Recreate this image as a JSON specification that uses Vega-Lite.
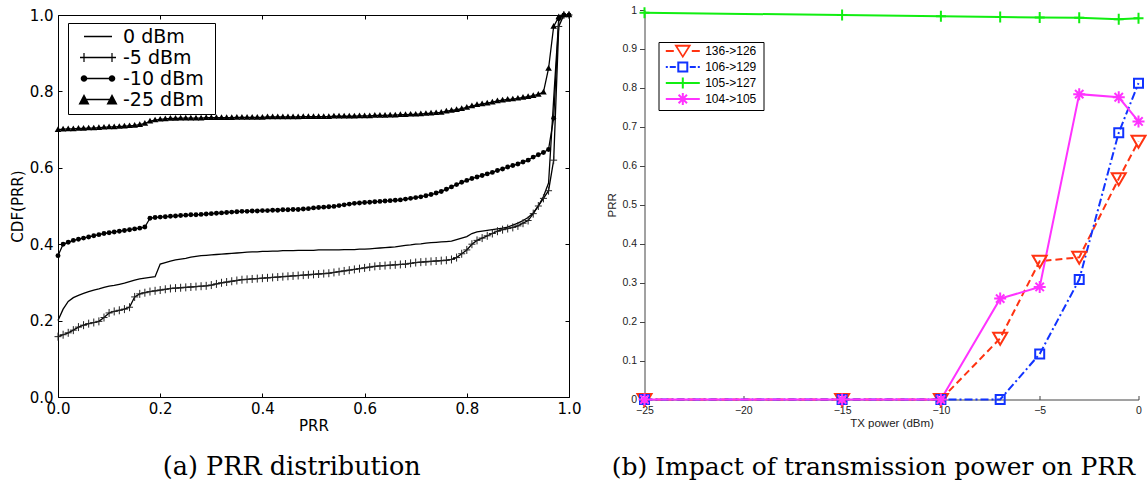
{
 "$schema": "https://vega.github.io/schema/vega-lite/v6.json",
 "background": "white",
 "padding": {"left": 10, "top": 3, "right": 0, "bottom": 0},
 "spacing": 24.5,
 "resolve": {"scale": {"shape": "independent", "color": "independent"}, "legend": {"shape": "independent", "color": "independent"}},
 "config": {
  "view": {"stroke": null},
  "axis": {"grid": false, "labelFlush": false, "titleFontWeight": "normal", "minExtent": 0, "labelOverlap": false}
 },
 "datasets": {
  "cdf": [
   {"x":0.00,"0 dBm":0.200,"-5 dBm":0.158,"-10 dBm":0.370,"-25 dBm":0.700},
   {"x":0.01,"0 dBm":0.230,"-5 dBm":0.163,"-10 dBm":0.400,"-25 dBm":0.701},
   {"x":0.02,"0 dBm":0.250,"-5 dBm":0.168,"-10 dBm":0.405,"-25 dBm":0.702},
   {"x":0.03,"0 dBm":0.260,"-5 dBm":0.175,"-10 dBm":0.410,"-25 dBm":0.702},
   {"x":0.04,"0 dBm":0.266,"-5 dBm":0.183,"-10 dBm":0.413,"-25 dBm":0.703},
   {"x":0.05,"0 dBm":0.271,"-5 dBm":0.188,"-10 dBm":0.416,"-25 dBm":0.703},
   {"x":0.06,"0 dBm":0.276,"-5 dBm":0.192,"-10 dBm":0.419,"-25 dBm":0.704},
   {"x":0.07,"0 dBm":0.280,"-5 dBm":0.195,"-10 dBm":0.422,"-25 dBm":0.704},
   {"x":0.08,"0 dBm":0.283,"-5 dBm":0.198,"-10 dBm":0.425,"-25 dBm":0.705},
   {"x":0.09,"0 dBm":0.287,"-5 dBm":0.208,"-10 dBm":0.428,"-25 dBm":0.706},
   {"x":0.10,"0 dBm":0.290,"-5 dBm":0.220,"-10 dBm":0.430,"-25 dBm":0.707},
   {"x":0.11,"0 dBm":0.292,"-5 dBm":0.224,"-10 dBm":0.432,"-25 dBm":0.707},
   {"x":0.12,"0 dBm":0.295,"-5 dBm":0.227,"-10 dBm":0.434,"-25 dBm":0.708},
   {"x":0.13,"0 dBm":0.298,"-5 dBm":0.230,"-10 dBm":0.436,"-25 dBm":0.709},
   {"x":0.14,"0 dBm":0.302,"-5 dBm":0.235,"-10 dBm":0.438,"-25 dBm":0.710},
   {"x":0.15,"0 dBm":0.306,"-5 dBm":0.262,"-10 dBm":0.440,"-25 dBm":0.711},
   {"x":0.16,"0 dBm":0.309,"-5 dBm":0.270,"-10 dBm":0.442,"-25 dBm":0.713},
   {"x":0.17,"0 dBm":0.311,"-5 dBm":0.273,"-10 dBm":0.445,"-25 dBm":0.716},
   {"x":0.18,"0 dBm":0.313,"-5 dBm":0.276,"-10 dBm":0.468,"-25 dBm":0.722},
   {"x":0.19,"0 dBm":0.315,"-5 dBm":0.278,"-10 dBm":0.470,"-25 dBm":0.725},
   {"x":0.20,"0 dBm":0.348,"-5 dBm":0.280,"-10 dBm":0.471,"-25 dBm":0.727},
   {"x":0.21,"0 dBm":0.352,"-5 dBm":0.282,"-10 dBm":0.472,"-25 dBm":0.728},
   {"x":0.22,"0 dBm":0.356,"-5 dBm":0.284,"-10 dBm":0.473,"-25 dBm":0.729},
   {"x":0.23,"0 dBm":0.359,"-5 dBm":0.285,"-10 dBm":0.474,"-25 dBm":0.729},
   {"x":0.24,"0 dBm":0.361,"-5 dBm":0.286,"-10 dBm":0.475,"-25 dBm":0.730},
   {"x":0.25,"0 dBm":0.363,"-5 dBm":0.287,"-10 dBm":0.476,"-25 dBm":0.730},
   {"x":0.26,"0 dBm":0.366,"-5 dBm":0.288,"-10 dBm":0.477,"-25 dBm":0.730},
   {"x":0.27,"0 dBm":0.368,"-5 dBm":0.289,"-10 dBm":0.477,"-25 dBm":0.730},
   {"x":0.28,"0 dBm":0.370,"-5 dBm":0.290,"-10 dBm":0.478,"-25 dBm":0.730},
   {"x":0.29,"0 dBm":0.371,"-5 dBm":0.291,"-10 dBm":0.479,"-25 dBm":0.731},
   {"x":0.30,"0 dBm":0.372,"-5 dBm":0.293,"-10 dBm":0.480,"-25 dBm":0.731},
   {"x":0.31,"0 dBm":0.373,"-5 dBm":0.296,"-10 dBm":0.481,"-25 dBm":0.731},
   {"x":0.32,"0 dBm":0.374,"-5 dBm":0.299,"-10 dBm":0.482,"-25 dBm":0.731},
   {"x":0.33,"0 dBm":0.375,"-5 dBm":0.301,"-10 dBm":0.483,"-25 dBm":0.731},
   {"x":0.34,"0 dBm":0.376,"-5 dBm":0.303,"-10 dBm":0.484,"-25 dBm":0.731},
   {"x":0.35,"0 dBm":0.377,"-5 dBm":0.305,"-10 dBm":0.485,"-25 dBm":0.732},
   {"x":0.36,"0 dBm":0.378,"-5 dBm":0.307,"-10 dBm":0.486,"-25 dBm":0.732},
   {"x":0.37,"0 dBm":0.379,"-5 dBm":0.308,"-10 dBm":0.486,"-25 dBm":0.732},
   {"x":0.38,"0 dBm":0.380,"-5 dBm":0.309,"-10 dBm":0.487,"-25 dBm":0.732},
   {"x":0.39,"0 dBm":0.380,"-5 dBm":0.310,"-10 dBm":0.487,"-25 dBm":0.732},
   {"x":0.40,"0 dBm":0.381,"-5 dBm":0.311,"-10 dBm":0.488,"-25 dBm":0.732},
   {"x":0.41,"0 dBm":0.381,"-5 dBm":0.312,"-10 dBm":0.488,"-25 dBm":0.733},
   {"x":0.42,"0 dBm":0.382,"-5 dBm":0.313,"-10 dBm":0.489,"-25 dBm":0.733},
   {"x":0.43,"0 dBm":0.382,"-5 dBm":0.314,"-10 dBm":0.489,"-25 dBm":0.733},
   {"x":0.44,"0 dBm":0.383,"-5 dBm":0.315,"-10 dBm":0.490,"-25 dBm":0.733},
   {"x":0.45,"0 dBm":0.383,"-5 dBm":0.316,"-10 dBm":0.490,"-25 dBm":0.733},
   {"x":0.46,"0 dBm":0.383,"-5 dBm":0.317,"-10 dBm":0.491,"-25 dBm":0.733},
   {"x":0.47,"0 dBm":0.384,"-5 dBm":0.318,"-10 dBm":0.491,"-25 dBm":0.733},
   {"x":0.48,"0 dBm":0.384,"-5 dBm":0.319,"-10 dBm":0.492,"-25 dBm":0.734},
   {"x":0.49,"0 dBm":0.384,"-5 dBm":0.320,"-10 dBm":0.493,"-25 dBm":0.734},
   {"x":0.50,"0 dBm":0.384,"-5 dBm":0.321,"-10 dBm":0.495,"-25 dBm":0.734},
   {"x":0.51,"0 dBm":0.385,"-5 dBm":0.322,"-10 dBm":0.496,"-25 dBm":0.734},
   {"x":0.52,"0 dBm":0.385,"-5 dBm":0.323,"-10 dBm":0.497,"-25 dBm":0.734},
   {"x":0.53,"0 dBm":0.385,"-5 dBm":0.324,"-10 dBm":0.498,"-25 dBm":0.734},
   {"x":0.54,"0 dBm":0.385,"-5 dBm":0.326,"-10 dBm":0.499,"-25 dBm":0.735},
   {"x":0.55,"0 dBm":0.385,"-5 dBm":0.328,"-10 dBm":0.501,"-25 dBm":0.735},
   {"x":0.56,"0 dBm":0.386,"-5 dBm":0.330,"-10 dBm":0.503,"-25 dBm":0.735},
   {"x":0.57,"0 dBm":0.386,"-5 dBm":0.332,"-10 dBm":0.505,"-25 dBm":0.735},
   {"x":0.58,"0 dBm":0.386,"-5 dBm":0.334,"-10 dBm":0.507,"-25 dBm":0.735},
   {"x":0.59,"0 dBm":0.387,"-5 dBm":0.336,"-10 dBm":0.508,"-25 dBm":0.736},
   {"x":0.60,"0 dBm":0.387,"-5 dBm":0.338,"-10 dBm":0.509,"-25 dBm":0.736},
   {"x":0.61,"0 dBm":0.388,"-5 dBm":0.340,"-10 dBm":0.510,"-25 dBm":0.736},
   {"x":0.62,"0 dBm":0.389,"-5 dBm":0.342,"-10 dBm":0.511,"-25 dBm":0.737},
   {"x":0.63,"0 dBm":0.390,"-5 dBm":0.343,"-10 dBm":0.512,"-25 dBm":0.737},
   {"x":0.64,"0 dBm":0.391,"-5 dBm":0.344,"-10 dBm":0.513,"-25 dBm":0.737},
   {"x":0.65,"0 dBm":0.392,"-5 dBm":0.345,"-10 dBm":0.514,"-25 dBm":0.738},
   {"x":0.66,"0 dBm":0.393,"-5 dBm":0.346,"-10 dBm":0.515,"-25 dBm":0.738},
   {"x":0.67,"0 dBm":0.395,"-5 dBm":0.347,"-10 dBm":0.516,"-25 dBm":0.739},
   {"x":0.68,"0 dBm":0.397,"-5 dBm":0.348,"-10 dBm":0.518,"-25 dBm":0.739},
   {"x":0.69,"0 dBm":0.398,"-5 dBm":0.350,"-10 dBm":0.520,"-25 dBm":0.740},
   {"x":0.70,"0 dBm":0.400,"-5 dBm":0.352,"-10 dBm":0.522,"-25 dBm":0.740},
   {"x":0.71,"0 dBm":0.401,"-5 dBm":0.353,"-10 dBm":0.524,"-25 dBm":0.741},
   {"x":0.72,"0 dBm":0.403,"-5 dBm":0.354,"-10 dBm":0.527,"-25 dBm":0.742},
   {"x":0.73,"0 dBm":0.404,"-5 dBm":0.355,"-10 dBm":0.530,"-25 dBm":0.743},
   {"x":0.74,"0 dBm":0.405,"-5 dBm":0.356,"-10 dBm":0.534,"-25 dBm":0.744},
   {"x":0.75,"0 dBm":0.406,"-5 dBm":0.357,"-10 dBm":0.538,"-25 dBm":0.745},
   {"x":0.76,"0 dBm":0.407,"-5 dBm":0.358,"-10 dBm":0.544,"-25 dBm":0.748},
   {"x":0.77,"0 dBm":0.408,"-5 dBm":0.360,"-10 dBm":0.550,"-25 dBm":0.750},
   {"x":0.78,"0 dBm":0.412,"-5 dBm":0.365,"-10 dBm":0.556,"-25 dBm":0.752},
   {"x":0.79,"0 dBm":0.416,"-5 dBm":0.375,"-10 dBm":0.562,"-25 dBm":0.755},
   {"x":0.80,"0 dBm":0.420,"-5 dBm":0.385,"-10 dBm":0.567,"-25 dBm":0.758},
   {"x":0.81,"0 dBm":0.428,"-5 dBm":0.400,"-10 dBm":0.572,"-25 dBm":0.762},
   {"x":0.82,"0 dBm":0.432,"-5 dBm":0.410,"-10 dBm":0.576,"-25 dBm":0.765},
   {"x":0.83,"0 dBm":0.434,"-5 dBm":0.416,"-10 dBm":0.580,"-25 dBm":0.767},
   {"x":0.84,"0 dBm":0.436,"-5 dBm":0.422,"-10 dBm":0.584,"-25 dBm":0.769},
   {"x":0.85,"0 dBm":0.438,"-5 dBm":0.428,"-10 dBm":0.588,"-25 dBm":0.772},
   {"x":0.86,"0 dBm":0.440,"-5 dBm":0.434,"-10 dBm":0.593,"-25 dBm":0.775},
   {"x":0.87,"0 dBm":0.442,"-5 dBm":0.438,"-10 dBm":0.597,"-25 dBm":0.777},
   {"x":0.88,"0 dBm":0.445,"-5 dBm":0.441,"-10 dBm":0.602,"-25 dBm":0.779},
   {"x":0.89,"0 dBm":0.450,"-5 dBm":0.444,"-10 dBm":0.606,"-25 dBm":0.780},
   {"x":0.90,"0 dBm":0.455,"-5 dBm":0.448,"-10 dBm":0.610,"-25 dBm":0.782},
   {"x":0.91,"0 dBm":0.462,"-5 dBm":0.455,"-10 dBm":0.615,"-25 dBm":0.784},
   {"x":0.92,"0 dBm":0.470,"-5 dBm":0.462,"-10 dBm":0.620,"-25 dBm":0.786},
   {"x":0.93,"0 dBm":0.482,"-5 dBm":0.480,"-10 dBm":0.628,"-25 dBm":0.789},
   {"x":0.94,"0 dBm":0.500,"-5 dBm":0.500,"-10 dBm":0.634,"-25 dBm":0.792},
   {"x":0.95,"0 dBm":0.525,"-5 dBm":0.520,"-10 dBm":0.640,"-25 dBm":0.798},
   {"x":0.96,"0 dBm":0.560,"-5 dBm":0.540,"-10 dBm":0.648,"-25 dBm":0.860},
   {"x":0.97,"0 dBm":0.780,"-5 dBm":0.620,"-10 dBm":0.730,"-25 dBm":0.970},
   {"x":0.98,"0 dBm":0.990,"-5 dBm":0.970,"-10 dBm":0.990,"-25 dBm":0.995},
   {"x":0.99,"0 dBm":1.000,"-5 dBm":1.000,"-10 dBm":1.000,"-25 dBm":1.000},
   {"x":1.00,"0 dBm":1.000,"-5 dBm":1.000,"-10 dBm":1.000,"-25 dBm":1.000}
  ],
  "tx": [
   {"k":"136->126","x":-25,"y":0},
   {"k":"136->126","x":-15,"y":0},
   {"k":"136->126","x":-10,"y":0},
   {"k":"136->126","x":-7,"y":0.157},
   {"k":"136->126","x":-5,"y":0.355},
   {"k":"136->126","x":-3,"y":0.365},
   {"k":"136->126","x":-1,"y":0.567},
   {"k":"136->126","x":0,"y":0.663},
   {"k":"106->129","x":-25,"y":0},
   {"k":"106->129","x":-15,"y":0},
   {"k":"106->129","x":-10,"y":0},
   {"k":"106->129","x":-7,"y":0},
   {"k":"106->129","x":-5,"y":0.117},
   {"k":"106->129","x":-3,"y":0.308},
   {"k":"106->129","x":-1,"y":0.685},
   {"k":"106->129","x":0,"y":0.812},
   {"k":"105->127","x":-25,"y":0.993},
   {"k":"105->127","x":-15,"y":0.987},
   {"k":"105->127","x":-10,"y":0.984},
   {"k":"105->127","x":-7,"y":0.982},
   {"k":"105->127","x":-5,"y":0.981},
   {"k":"105->127","x":-3,"y":0.980},
   {"k":"105->127","x":-1,"y":0.976},
   {"k":"105->127","x":0,"y":0.979},
   {"k":"104->105","x":-25,"y":0},
   {"k":"104->105","x":-15,"y":0},
   {"k":"104->105","x":-10,"y":0},
   {"k":"104->105","x":-7,"y":0.259},
   {"k":"104->105","x":-5,"y":0.289},
   {"k":"104->105","x":-3,"y":0.784},
   {"k":"104->105","x":-1,"y":0.776},
   {"k":"104->105","x":0,"y":0.714}
  ]
 },
 "hconcat": [
  {
   "width": 511,
   "height": 387,
   "title": {"text": "(a) PRR distribution", "orient": "bottom", "anchor": "middle", "frame": "bounds", "font": "DejaVu Serif", "fontSize": 25.5, "fontWeight": "normal", "color": "black", "offset": 22, "dx": -4},
   "data": {"name": "cdf"},
   "transform": [{"fold": ["0 dBm", "-5 dBm", "-10 dBm", "-25 dBm"], "as": ["s", "y"]}],
   "resolve": {"axis": {"x": "independent", "y": "independent"}},
   "layer": [
    {
     "mark": {"type": "line", "color": "black", "strokeWidth": 1.3},
     "encoding": {
      "x": {"field": "x", "type": "quantitative", "scale": {"domain": [0, 1], "nice": false, "zero": false},
       "axis": {"orient": "bottom", "values": [0, 0.2, 0.4, 0.6, 0.8, 1], "format": ".1f", "title": "PRR", "domain": true, "domainColor": "black", "tickSize": -4, "tickColor": "black", "labelPadding": 8.4, "labelFont": "DejaVu Sans", "labelFontSize": 15, "labelColor": "black", "titleFont": "DejaVu Sans", "titleFontSize": 15, "titleColor": "black", "titlePadding": 2, "labelOverlap": false}},
      "y": {"field": "y", "type": "quantitative", "scale": {"domain": [0, 1], "nice": false, "range": [387, 5]},
       "axis": {"orient": "left", "values": [0, 0.2, 0.4, 0.6, 0.8, 1], "format": ".1f", "title": "CDF(PRR)", "domain": true, "domainColor": "black", "tickSize": -4, "tickColor": "black", "labelPadding": 9, "labelFont": "DejaVu Sans", "labelFontSize": 15, "labelColor": "black", "titleFont": "DejaVu Sans", "titleFontSize": 15, "titleColor": "black", "titlePadding": 3.5, "labelOverlap": false}},
      "detail": {"field": "s"}
     }
    },
    {
     "transform": [{"filter": "datum.s === '-5 dBm'"}],
     "mark": {"type": "point", "shape": "M-3.5,0L3.5,0M0,-4L0,4", "size": 4, "filled": false, "color": "#222222", "strokeWidth": 1, "opacity": 1},
     "encoding": {
      "x": {"field": "x", "type": "quantitative", "axis": null},
      "y": {"field": "y", "type": "quantitative", "axis": null}
     }
    },
    {
     "transform": [{"filter": "datum.s === '-10 dBm'"}],
     "mark": {"type": "point", "shape": "circle", "size": 24, "filled": true, "color": "black", "opacity": 1},
     "encoding": {
      "x": {"field": "x", "type": "quantitative", "axis": null},
      "y": {"field": "y", "type": "quantitative", "axis": null}
     }
    },
    {
     "transform": [{"filter": "datum.s === '-25 dBm'"}],
     "mark": {"type": "point", "shape": "M-3.3,2.3L3.3,2.3L0,-3.4Z", "size": 4, "filled": true, "color": "black", "opacity": 1},
     "encoding": {
      "x": {"field": "x", "type": "quantitative", "axis": null},
      "y": {"field": "y", "type": "quantitative", "axis": null}
     }
    },
    {
     "transform": [{"filter": "datum.x === 0"}],
     "mark": {"type": "point", "opacity": 0, "size": 4, "filled": true, "color": "black"},
     "encoding": {
      "x": {"field": "x", "type": "quantitative",
       "axis": {"orient": "top", "labels": false, "title": null, "domain": true, "domainColor": "black", "offset": -5, "tickSize": -4, "tickColor": "black", "values": [0, 0.2, 0.4, 0.6, 0.8, 1], "minExtent": 0, "maxExtent": 0}},
      "y": {"field": "y", "type": "quantitative",
       "axis": {"orient": "right", "labels": false, "title": null, "domain": true, "domainColor": "black", "tickSize": -4, "tickColor": "black", "values": [0, 0.2, 0.4, 0.6, 0.8, 1], "minExtent": 0, "maxExtent": 0}},
      "shape": {"field": "s", "type": "nominal",
       "scale": {"domain": ["0 dBm", "-5 dBm", "-10 dBm", "-25 dBm"],
        "range": [
         "M-26,-10.15L-25.99,-10.15L-25.99,-10.14ZM112,10.14L112.01,10.14L112.01,10.15ZM-14,-0.7L14,-0.7L14,0.7L-14,0.7Z",
         "M-26,-10.15L-25.99,-10.15L-25.99,-10.14ZM112,10.14L112.01,10.14L112.01,10.15ZM-18,-0.7L18,-0.7L18,0.7L-18,0.7ZM-14.6,-4.5L-13.4,-4.5L-13.4,4.5L-14.6,4.5ZM13.4,-4.5L14.6,-4.5L14.6,4.5L13.4,4.5Z",
         "M-26,-10.15L-25.99,-10.15L-25.99,-10.14ZM112,10.14L112.01,10.14L112.01,10.15ZM-14,-0.7L14,-0.7L14,0.7L-14,0.7ZM-17.3,0A3.3,3.3,0,1,1,-10.7,0A3.3,3.3,0,1,1,-17.3,0ZM10.7,0A3.3,3.3,0,1,1,17.3,0A3.3,3.3,0,1,1,10.7,0Z",
         "M-26,-10.15L-25.99,-10.15L-25.99,-10.14ZM112,10.14L112.01,10.14L112.01,10.15ZM-14,-0.7L14,-0.7L14,0.7L-14,0.7ZM-19.5,5L-14,-5.5L-8.5,5ZM8.5,5L14,-5.5L19.5,5Z"
        ]},
       "legend": {"orient": "none", "legendX": 10, "legendY": 13, "title": null, "padding": 4, "rowPadding": 0, "symbolSize": 4, "symbolOffset": 16.5, "labelOffset": 15.5, "labelFont": "DejaVu Sans", "labelFontSize": 19, "labelColor": "black", "strokeColor": "black", "fillColor": "white", "symbolOpacity": 1, "symbolStrokeWidth": 0, "symbolFillColor": "black"}
      }
     }
    }
   ]
  },
  {
   "width": 494,
   "height": 389.5,
   "title": {"text": "(b) Impact of transmission power on PRR", "orient": "bottom", "anchor": "middle", "frame": "bounds", "font": "DejaVu Serif", "fontSize": 25, "fontWeight": "normal", "color": "black", "offset": 26, "dx": -4.6},
   "data": {"name": "tx"},
   "resolve": {"axis": {"x": "independent", "y": "independent"}},
   "layer": [
    {
     "transform": [{"filter": "datum.k === '136->126'"}],
     "mark": {"type": "line", "strokeWidth": 2, "color": "#ff3311", "strokeDash": [7, 4]},
     "encoding": {
      "x": {"field": "x", "type": "quantitative", "scale": {"domain": [-25, 0], "nice": false, "zero": false},
       "axis": {"values": [-25, -20, -15, -10, -5, 0], "title": "TX power (dBm)", "tickSize": -4, "labelPadding": 10, "domainColor": "#444444", "tickColor": "#444444", "labelColor": "#222222", "labelFont": "Liberation Sans", "labelFontSize": 10.5, "titleFont": "Liberation Sans", "titleFontSize": 11.5, "titleColor": "#222222", "titlePadding": 1, "labelOverlap": false}},
      "y": {"field": "y", "type": "quantitative", "scale": {"domain": [0, 1], "nice": false},
       "axis": {"values": [0, 0.1, 0.2, 0.3, 0.4, 0.5, 0.6, 0.7, 0.8, 0.9, 1], "format": "~g", "title": "PRR", "tickSize": 5, "labelPadding": 3, "domainColor": "#444444", "tickColor": "#444444", "labelColor": "#222222", "labelFont": "Liberation Sans", "labelFontSize": 10.5, "titleFont": "Liberation Sans", "titleFontSize": 11.5, "titleColor": "#222222", "titlePadding": 4.5, "labelOverlap": false}}
     }
    },
    {
     "transform": [{"filter": "datum.k === '106->129'"}],
     "mark": {"type": "line", "strokeWidth": 2, "color": "#1133ff", "strokeDash": [8, 3, 2, 3]},
     "encoding": {"x": {"field": "x", "type": "quantitative", "axis": null}, "y": {"field": "y", "type": "quantitative", "axis": null}}
    },
    {
     "transform": [{"filter": "datum.k === '105->127'"}],
     "mark": {"type": "line", "strokeWidth": 2, "color": "#11ee11"},
     "encoding": {"x": {"field": "x", "type": "quantitative", "axis": null}, "y": {"field": "y", "type": "quantitative", "axis": null}}
    },
    {
     "transform": [{"filter": "datum.k === '104->105'"}],
     "mark": {"type": "line", "strokeWidth": 2, "color": "#ff33ff"},
     "encoding": {"x": {"field": "x", "type": "quantitative", "axis": null}, "y": {"field": "y", "type": "quantitative", "axis": null}}
    },
    {
     "transform": [{"filter": "datum.k === '136->126'"}],
     "mark": {"type": "point", "shape": "M-7,-5.5L7,-5.5L0,6.5Z", "size": 4, "filled": false, "color": "#ff3311", "strokeWidth": 2, "opacity": 1},
     "encoding": {"x": {"field": "x", "type": "quantitative", "axis": null}, "y": {"field": "y", "type": "quantitative", "axis": null}}
    },
    {
     "transform": [{"filter": "datum.k === '106->129'"}],
     "mark": {"type": "point", "shape": "M-4.5,-4.5L4.5,-4.5L4.5,4.5L-4.5,4.5Z", "size": 4, "filled": false, "color": "#1133ff", "strokeWidth": 2, "opacity": 1},
     "encoding": {"x": {"field": "x", "type": "quantitative", "axis": null}, "y": {"field": "y", "type": "quantitative", "axis": null}}
    },
    {
     "transform": [{"filter": "datum.k === '105->127'"}],
     "mark": {"type": "point", "shape": "M-5,0L5,0M0,-5.5L0,5.5", "size": 4, "filled": false, "color": "#11ee11", "strokeWidth": 2, "opacity": 1},
     "encoding": {"x": {"field": "x", "type": "quantitative", "axis": null}, "y": {"field": "y", "type": "quantitative", "axis": null}}
    },
    {
     "transform": [{"filter": "datum.k === '104->105'"}],
     "mark": {"type": "point", "shape": "M-6,0L6,0M0,-6L0,6M-4.2,-4.2L4.2,4.2M-4.2,4.2L4.2,-4.2", "size": 4, "filled": false, "color": "#ff33ff", "strokeWidth": 2, "opacity": 1},
     "encoding": {"x": {"field": "x", "type": "quantitative", "axis": null}, "y": {"field": "y", "type": "quantitative", "axis": null}}
    },
    {
     "transform": [{"filter": "datum.x === -25"}],
     "mark": {"type": "point", "opacity": 0, "size": 4, "filled": true},
     "encoding": {
      "x": {"field": "x", "type": "quantitative", "axis": null},
      "y": {"field": "y", "type": "quantitative", "axis": null},
      "color": {"field": "k", "type": "nominal",
       "scale": {"domain": ["136->126", "106->129", "105->127", "104->105"], "range": ["#ff3311", "#1133ff", "#11ee11", "#ff33ff"]},
       "legend": {"orient": "none", "legendX": 14, "legendY": 32, "title": null, "padding": 3, "rowPadding": 0, "symbolSize": 4, "symbolOffset": 15.3, "labelOffset": 16.4, "labelFont": "Liberation Sans", "labelFontSize": 12, "labelColor": "black", "strokeColor": "black", "fillColor": "white", "symbolOpacity": 1, "symbolStrokeWidth": 0}},
      "shape": {"field": "k", "type": "nominal",
       "scale": {"domain": ["136->126", "106->129", "105->127", "104->105"],
        "range": [
         "M-21.3,-7.4L-21.29,-7.4L-21.29,-7.39ZM76.7,7.39L76.71,7.39L76.71,7.4ZM-17,-1L-9,-1L-9,1L-17,1ZM9,-1L17,-1L17,1L9,1ZM-8.5,-6.2L8.5,-6.2L0,7.2ZM-5.2,-4.2L0,4.2L5.2,-4.2Z",
         "M-21.3,-7.4L-21.29,-7.4L-21.29,-7.39ZM76.7,7.39L76.71,7.39L76.71,7.4ZM-17,-1L-15,-1L-15,1L-17,1ZM-13,-1L-7,-1L-7,1L-13,1ZM7,-1L13,-1L13,1L7,1ZM15,-1L17,-1L17,1L15,1ZM-5.5,-5.5L5.5,-5.5L5.5,5.5L-5.5,5.5ZM-3.5,-3.5L-3.5,3.5L3.5,3.5L3.5,-3.5Z",
         "M-21.3,-7.4L-21.29,-7.4L-21.29,-7.39ZM76.7,7.39L76.71,7.39L76.71,7.4ZM-17,-1L17,-1L17,1L-17,1ZM-1,-5.5L1,-5.5L1,5.5L-1,5.5Z",
         "M-21.3,-7.4L-21.29,-7.4L-21.29,-7.39ZM76.7,7.39L76.71,7.39L76.71,7.4ZM-17,-1L17,-1L17,1L-17,1ZM-1,-6L1,-6L1,6L-1,6ZM-3.49,-4.91L4.91,3.49L3.49,4.91L-4.91,-3.49ZM-4.91,3.49L3.49,-4.91L4.91,-3.49L-3.49,4.91Z"
        ]},
       "legend": {"orient": "none", "legendX": 14, "legendY": 32, "title": null, "padding": 3, "rowPadding": 0, "symbolSize": 4, "symbolOffset": 15.3, "labelOffset": 16.4, "labelFont": "Liberation Sans", "labelFontSize": 12, "labelColor": "black", "strokeColor": "black", "fillColor": "white", "symbolOpacity": 1, "symbolStrokeWidth": 0}
      }
     }
    }
   ]
  }
 ]
}
